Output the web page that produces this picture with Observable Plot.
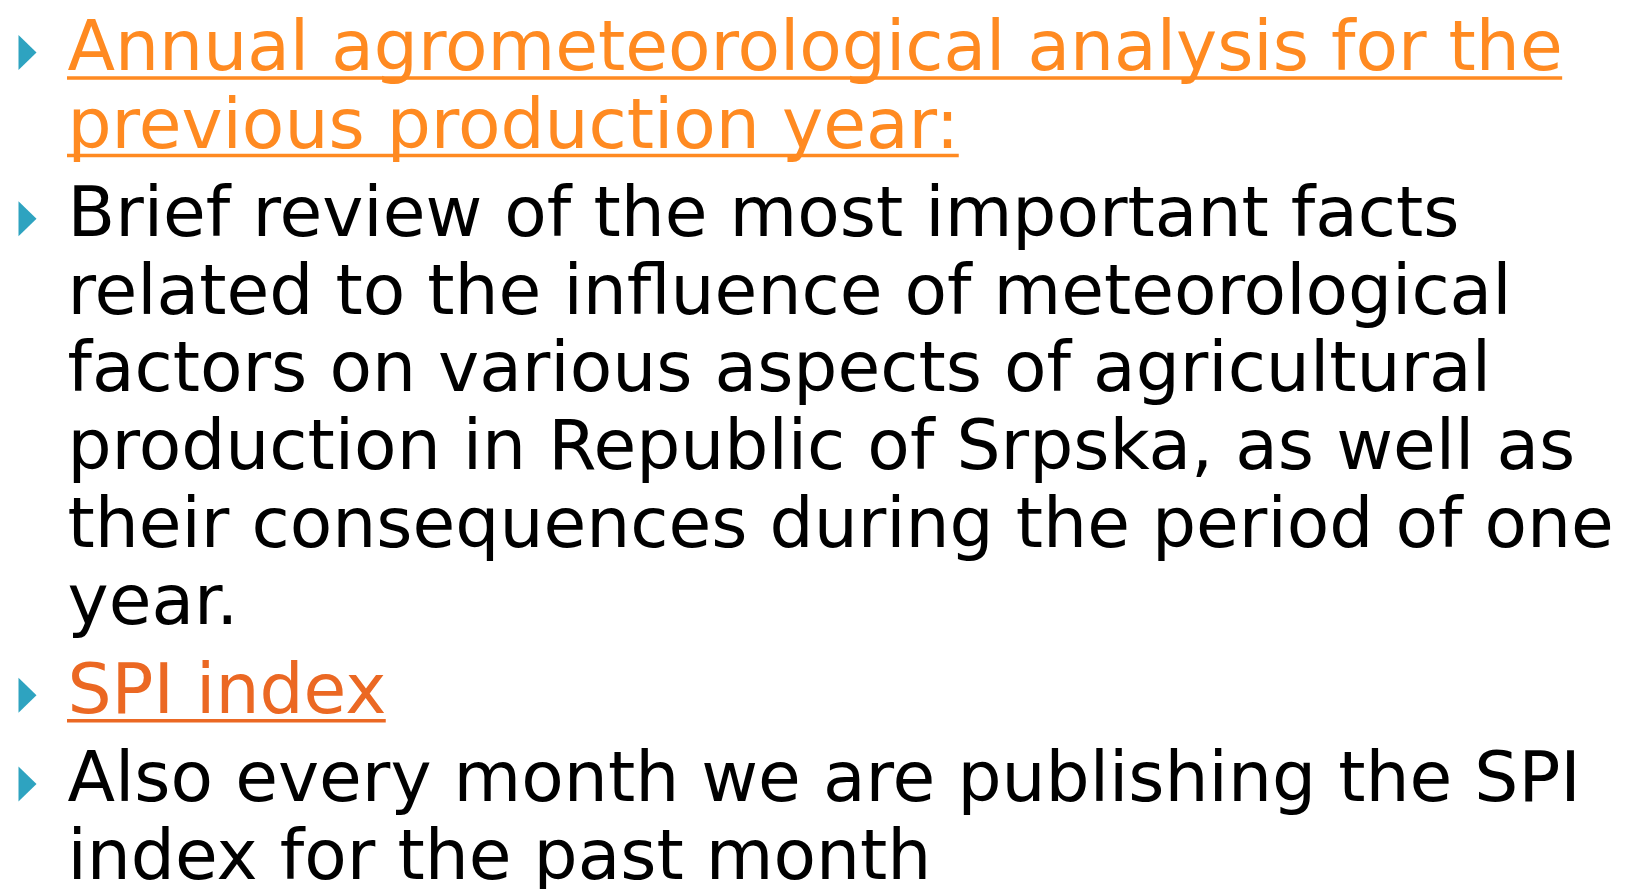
<!DOCTYPE html>
<html>
<head>
<meta charset="utf-8">
<script src="https://cdn.jsdelivr.net/npm/d3@7"></script>
<script src="https://cdn.jsdelivr.net/npm/@observablehq/plot@0.6"></script>
<style>
  html, body { margin: 0; padding: 0; background: #ffffff; overflow: hidden; }
</style>
</head>
<body>
<div id="chart"></div>
<script>
// ---- Slide content: bullet paragraphs, with line breaks as on the slide ----
const paragraphs = [
  "Annual agrometeorological analysis for the\nprevious production year:",
  "Brief review of the most important facts\nrelated to the influence of meteorological\nfactors on various aspects of agricultural\nproduction in Republic of Srpska, as well as\ntheir consequences during the period of one\nyear.",
  "SPI index",
  "Also every month we are publishing the SPI\nindex for the past month"
];
// Kind of each paragraph (link styles vs. plain body text)
const paragraphKinds = ["hyperlink", "body", "followedHyperlink", "body"];
const kindDomain = ["hyperlink", "followedHyperlink", "body"];
const kindColors = ["#FF8A21", "#EB6823", "#000000"];

// ---- Layout constants ----
const FONT_SIZE = 69.5;
const FONT_FAMILY = "'DejaVu Sans', sans-serif";
const TEXT_LEFT = 67;
const paragraphGap = 11 / 77.6; // extra space before a paragraph, in line units

// measure text width for underlines
const ctx = document.createElement("canvas").getContext("2d");
ctx.font = `${FONT_SIZE}px ${FONT_FAMILY}`;

// ---- Build line table ----
const lines = [];
const bullets = [];
let row = 0;
paragraphs.forEach((p, pi) => {
  p.split("\n").forEach((t, li) => {
    const y = row + pi * paragraphGap;
    lines.push({text: t, kind: paragraphKinds[pi], y, x1: TEXT_LEFT, x2: TEXT_LEFT + ctx.measureText(t).width});
    if (li === 0) bullets.push({y});
    row++;
  });
});
const linkLines = lines.filter(d => d.kind !== "body");

// Right-pointing bullet triangle
const rightTriangle = {
  draw(context, size) {
    const r = Math.sqrt(size / Math.PI);
    const w = r * 0.515;
    context.moveTo(-w, -r);
    context.lineTo(w, 0);
    context.lineTo(-w, r);
    context.closePath();
  }
};

const chart = Plot.plot({
  width: 1627,
  height: 889,
  margin: 0,
  style: {fontFamily: FONT_FAMILY, background: "#ffffff", overflow: "visible"},
  x: {domain: [0, 1627], axis: null},
  y: {domain: [0, 1], range: [69.5, 147.1], axis: null},
  color: {domain: kindDomain, range: kindColors},
  marks: [
    Plot.dot(bullets, {
      y: "y", frameAnchor: "left", dx: 27, dy: -17.5,
      symbol: rightTriangle, r: 17.5, fill: "#2EA3C0", stroke: "none"
    }),
    Plot.ruleY(linkLines, {
      y: "y", x1: "x1", x2: "x2", dy: 8, stroke: "kind", strokeWidth: 3.5
    }),
    Plot.text(lines, {
      y: "y", text: "text", fill: "kind",
      frameAnchor: "left", dx: TEXT_LEFT, textAnchor: "start", lineAnchor: "bottom",
      fontSize: FONT_SIZE
    })
  ]
});
document.getElementById("chart").appendChild(chart);
</script>
</body>
</html>
